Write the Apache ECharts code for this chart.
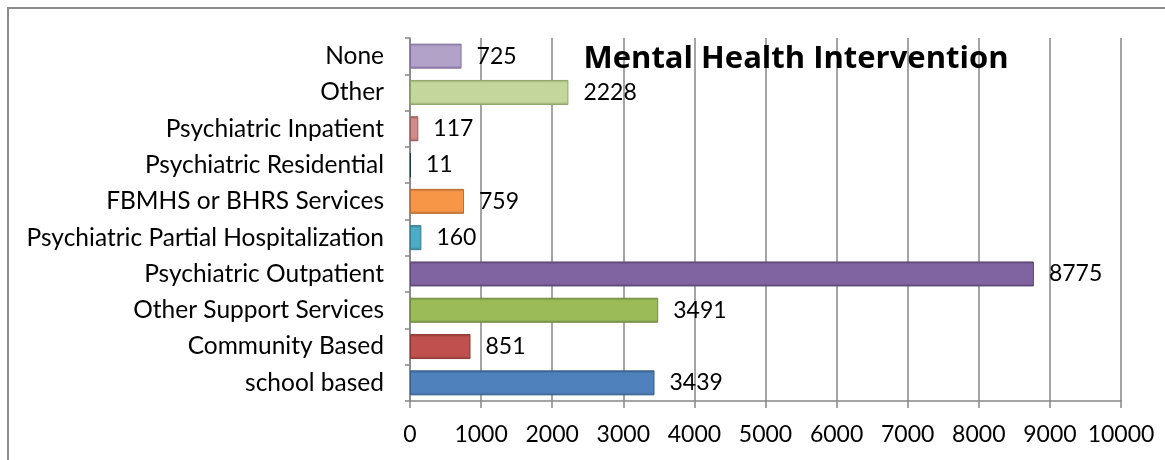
<!DOCTYPE html>
<html><head><meta charset="utf-8">
<script src="https://cdn.jsdelivr.net/npm/echarts@6/dist/echarts.min.js"></script>
<style>html,body{margin:0;padding:0;background:#fff}#c{width:1165px;height:460px}</style>
</head><body><div id="c"></div>
<script>
const categories = ["school based","Community Based","Other Support Services","Psychiatric Outpatient","Psychiatric Partial Hospitalization","FBMHS or BHRS Services","Psychiatric Residential","Psychiatric Inpatient","Other","None"];
const values = [3439, 851, 3491, 8775, 160, 759, 11, 117, 2228, 725];
const barColors = ["#4F81BD","#C0504D","#9BBB59","#8064A2","#4BACC6","#F79646","#2C4D75","#D08B8A","#C3D69B","#B3A2C7"];
const edgeColors = ["#385D8A","#8C3836","#71893F","#5C4776","#357D91","#B66D31","#1F3752","#9A5A59","#8FA56A","#8270A0"];
const xTicks = [0,1000,2000,3000,4000,5000,6000,7000,8000,9000,10000];
const title = "Mental Health Intervention";
const FONT = "Lato";

const chart = echarts.init(document.getElementById('c'));
chart.setOption({
  animation:false,
  backgroundColor:'#fff',
  title:{text:title,left:791,top:39,textAlign:'center',textStyle:{fontFamily:"Open Sans",fontWeight:'bold',fontSize:31,color:'#000'}},
  graphic:[{type:'rect',shape:{x:8,y:8,width:1200,height:500},style:{fill:'none',stroke:'#8c8c8c',lineWidth:2},silent:true,z:-1}],
  grid:{left:410,right:44,top:38,bottom:59,containLabel:false},
  xAxis:{type:'value',min:xTicks[0],max:xTicks[xTicks.length-1],interval:1000,
    axisLine:{show:true,lineStyle:{color:'#868686',width:1.5}},
    axisTick:{show:true,length:7,lineStyle:{color:'#868686',width:1.5}},
    splitLine:{show:true,lineStyle:{color:'#868686',width:1.5}},
    axisLabel:{margin:22,fontFamily:FONT,fontSize:23,color:'#000',formatter:v=>String(v)}},
  yAxis:{type:'category',data:categories,
    axisLine:{show:true,lineStyle:{color:'#868686',width:1.5}},
    axisTick:{show:true,length:5,lineStyle:{color:'#868686',width:1.5}},
    axisLabel:{margin:26,fontFamily:FONT,fontSize:24.5,color:'#000'}},
  series:[{type:'bar',barWidth:25,
    data:values.map((v,i)=>({value:v,itemStyle:{
      color:{type:'linear',x:0,y:0,x2:0,y2:1,colorStops:[{offset:0,color:edgeColors[i]},{offset:0.12,color:barColors[i]},{offset:0.88,color:barColors[i]},{offset:1,color:edgeColors[i]}]},
      borderColor:edgeColors[i],borderWidth:1}})),
    label:{show:true,position:'right',distance:15,fontFamily:FONT,fontSize:23,color:'#000'}
  }]
});
</script></body></html>
